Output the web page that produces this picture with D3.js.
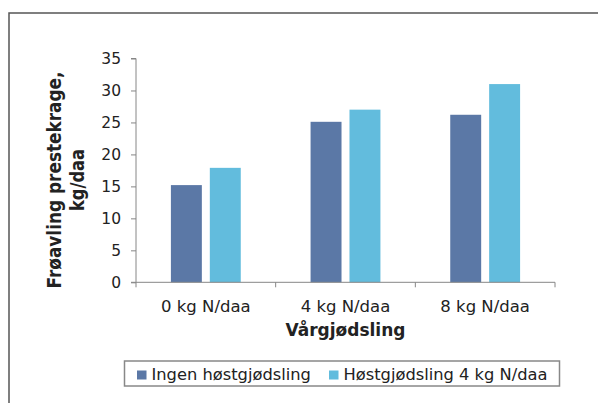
<!DOCTYPE html>
<html><head><meta charset="utf-8">
<script src="https://cdn.jsdelivr.net/npm/d3@7"></script>
<style>body{margin:0;background:#fff}svg{display:block}</style>
</head><body>
<svg id="c" width="598" height="403"></svg>
<script>
const categories = ["0 kg N/daa", "4 kg N/daa", "8 kg N/daa"];
const seriesNames = ["Ingen høstgjødsling", "Høstgjødsling 4 kg N/daa"];
const ingen = [15.2, 25.1, 26.2];
const host = [17.9, 27.0, 31.0];
const yTicks = [0, 5, 10, 15, 20, 25, 30, 35];
const colors = ["#5B78A6", "#62BCDD"];

(function(){
const svg = d3.select("#c");
svg.append("path").attr("d","M9,403 V13 H598").attr("fill","none").attr("stroke","#555").attr("stroke-width",1.5);

const pL = 136, pR = 555, pT = 58.5, pB = 282.3;
const x = d3.scaleBand().domain(categories).range([pL, pR]).paddingInner(0).paddingOuter(0);
const y = d3.scaleLinear().domain([0, 35]).range([pB, pT]);
const inner = d3.scaleBand().domain([0,1]).range([0, x.bandwidth()]).paddingInner(0.205).paddingOuter(0.897);

const font = "'DejaVu Sans',sans-serif";
const data = [ingen, host];
categories.forEach((c, i) => {
  data.forEach((s, j) => {
    svg.append("rect")
      .attr("x", x(c) + inner(j))
      .attr("width", inner.bandwidth())
      .attr("y", y(s[i]))
      .attr("height", y(0) - y(s[i]))
      .attr("fill", colors[j]);
  });
});

const yAxis = svg.append("g").attr("transform", `translate(${pL},0)`)
  .call(d3.axisLeft(y).tickValues(yTicks).tickSize(5).tickPadding(10));
yAxis.select(".domain").attr("stroke","#868686").attr("d", `M-5,${pT}H0V${pB}H-5`);
yAxis.selectAll(".tick line").attr("stroke","#868686");
yAxis.selectAll(".tick text").attr("font-family", font).attr("font-size", 15.5).attr("fill","#222");

const xAxis = svg.append("g").attr("transform", `translate(0,${pB})`)
  .call(d3.axisBottom(x).tickSize(0).tickPadding(0));
xAxis.select(".domain").attr("stroke","#868686").attr("d", `M${pL},0H${pR}`);
xAxis.selectAll(".tick text").attr("dy", null).attr("y", 29.4)
  .attr("font-family", font).attr("font-size", 16.5).attr("fill","#222");
[pL, ...categories.map(c => x(c) + x.bandwidth())].forEach(px => {
  svg.append("line").attr("x1", px).attr("x2", px).attr("y1", pB).attr("y2", pB + 5).attr("stroke", "#868686");
});

svg.append("text").attr("x", 345.5).attr("y", 336).attr("text-anchor","middle")
  .attr("font-family", font).attr("font-weight","bold").attr("font-size", 17).attr("fill","#222").text("Vårgjødsling");
const yt = svg.append("g").attr("transform","translate(0,180) rotate(-90)");
yt.append("text").attr("x",0).attr("y",61).attr("text-anchor","middle")
  .attr("font-family",font).attr("font-weight","bold").attr("font-size",20)
  .attr("textLength",217).attr("lengthAdjust","spacingAndGlyphs").attr("fill","#222").text("Frøavling prestekrage,");
yt.append("text").attr("x",0).attr("y",84).attr("text-anchor","middle")
  .attr("font-family",font).attr("font-weight","bold").attr("font-size",20)
  .attr("textLength",62).attr("lengthAdjust","spacingAndGlyphs").attr("fill","#222").text("kg/daa");

svg.append("rect").attr("x",124.5).attr("y",361).attr("width",435).attr("height",25)
  .attr("fill","#fff").attr("stroke","#888").attr("stroke-width",1.5);
const lx = [137, 329];
seriesNames.forEach((n, j) => {
  svg.append("rect").attr("x", lx[j]).attr("y", 370.5).attr("width", 9.5).attr("height", 9).attr("fill", colors[j]);
  svg.append("text").attr("x", lx[j] + 14.5).attr("y", 380).attr("font-family", font).attr("font-size", 16.3).attr("fill","#222").text(n);
});
})();
</script>
</body></html>
